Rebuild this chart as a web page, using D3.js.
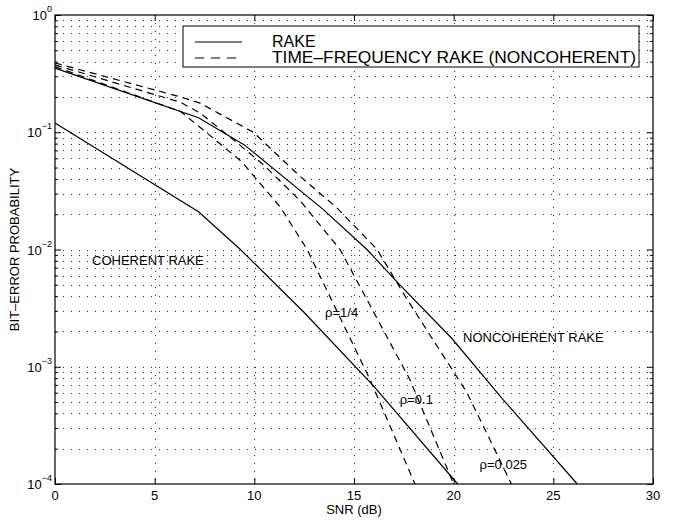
<!DOCTYPE html>
<html>
<head>
<meta charset="utf-8">
<script src="https://cdn.jsdelivr.net/npm/d3@7/dist/d3.min.js"></script>
<style>
body { margin: 0; background: #fff; }
svg { font-family: "Liberation Sans", Arial, sans-serif; }
.grid line { stroke: #333; stroke-width: 1; stroke-dasharray: 1,7; }
.curve { fill: none; stroke: #000; stroke-width: 1.2; }
.dashed { stroke-dasharray: 7,5; }
.axis path { display: none; }
.axis line { stroke: #000; }
</style>
</head>
<body>
<svg id="chart" width="673" height="520"></svg>
<script>

// values (SNR in dB, bit-error probability)
var coherentSnr = [0, 7.2, 9.3, 12.5, 16.0, 20.2];
var coherentBer = [0.12, 0.021, 0.01, 0.0029, 0.00068, 0.0001];

var noncoherentSnr = [0, 7.2, 9.5, 13.45, 15.65, 17.3, 19.9, 22.5, 26.2];
var noncoherentBer = [0.352, 0.133, 0.078, 0.022, 0.01, 0.005, 0.00175, 0.00052, 0.0001];

var rhoQuarterSnr = [0, 6.3, 7.43, 9.37, 11.3, 12.65, 15.8, 18.06];
var rhoQuarterBer = [0.363, 0.15, 0.105, 0.056, 0.023, 0.01, 0.00078, 0.0001];

var rhoTenthSnr = [0, 6.3, 7.3, 9, 10.5, 12.3, 14.3, 17.8, 20.0];
var rhoTenthBer = [0.375, 0.18, 0.145, 0.085, 0.052, 0.026, 0.01, 0.00078, 0.0001];

var rhoSmallSnr = [0, 6.3, 7.28, 9.95, 12.3, 14.1, 16.16, 17.56, 20.67, 22.9];
var rhoSmallBer = [0.39, 0.2, 0.177, 0.1, 0.042, 0.023, 0.01, 0.004, 0.0006, 0.0001];

var xTicks = [0, 5, 10, 15, 20, 25, 30];
var yDecades = [-4, -3, -2, -1, 0];

var legendLabels = ["RAKE", "TIME\u2013FREQUENCY RAKE (NONCOHERENT)"];

var curveLabels = [
    {text: "COHERENT RAKE", snr: 1.86, ber: 0.0074},
    {text: "\u03c1=1/4", snr: 13.55, ber: 0.00266},
    {text: "\u03c1=0.1", snr: 17.3, ber: 0.00048},
    {text: "\u03c1=0.025", snr: 21.3, ber: 0.000134},
    {text: "NONCOHERENT RAKE", snr: 20.47, ber: 0.00163}
];

var margin = {top: 15, right: 20, bottom: 36, left: 55};
var canvas = d3.select("#chart");
var width = 673 - margin.left - margin.right;
var height = 520 - margin.top - margin.bottom;

var x = d3.scaleLinear()
    .domain([0, 30])
    .range([0, width]);

var y = d3.scaleLog()
    .domain([1e-4, 1])
    .range([height, 0]);

var g = canvas.append("g")
    .attr("transform", "translate(" + margin.left + "," + margin.top + ")");

// minor values of the log axis
var yMinor = [];
for (var k = -4; k < 0; k++) {
    for (var m = 2; m <= 9; m++) {
        yMinor.push(m * Math.pow(10, k));
    }
}
var yMajor = yDecades.map(function(e) { return Math.pow(10, e); });

// dotted grid
var grid = g.append("g").classed("grid", true);

grid.selectAll(".hgrid")
    .data(yMajor.concat(yMinor).filter(function(v) { return v > 1e-4 && v < 1; }))
    .enter()
    .append("line")
    .attr("x1", 0)
    .attr("x2", width)
    .attr("y1", function(d) { return Math.round(y(d)) + 0.5; })
    .attr("y2", function(d) { return Math.round(y(d)) + 0.5; });

grid.selectAll(".vgrid")
    .data(xTicks.filter(function(v) { return v > 0 && v < 30; }))
    .enter()
    .append("line")
    .attr("y1", 0)
    .attr("y2", height)
    .attr("x1", function(d) { return Math.round(x(d)) + 0.5; })
    .attr("x2", function(d) { return Math.round(x(d)) + 0.5; });

// ticks on all four sides, pointing in
g.append("g")
    .classed("axis", true)
    .attr("transform", "translate(0," + height + ")")
    .call(d3.axisBottom(x).tickValues(xTicks).tickSize(-6).tickFormat(""));

g.append("g")
    .classed("axis", true)
    .call(d3.axisTop(x).tickValues(xTicks).tickSize(-6).tickFormat(""));

g.append("g")
    .classed("axis", true)
    .call(d3.axisLeft(y).tickValues(yMajor).tickSize(-6).tickFormat(""));

g.append("g")
    .classed("axis", true)
    .call(d3.axisLeft(y).tickValues(yMinor).tickSize(-3).tickFormat(""));

g.append("g")
    .classed("axis", true)
    .attr("transform", "translate(" + width + ",0)")
    .call(d3.axisRight(y).tickValues(yMajor).tickSize(-6).tickFormat(""));

g.append("g")
    .classed("axis", true)
    .attr("transform", "translate(" + width + ",0)")
    .call(d3.axisRight(y).tickValues(yMinor).tickSize(-3).tickFormat(""));

// tick labels
g.selectAll(".xlabel")
    .data(xTicks)
    .enter()
    .append("text")
    .attr("x", function(d) { return x(d); })
    .attr("y", height + 16)
    .attr("text-anchor", "middle")
    .style("font-size", "13px")
    .text(function(d) { return d; });

var ylab = g.selectAll(".ylabel")
    .data(yDecades)
    .enter()
    .append("text")
    .attr("x", -3)
    .attr("y", function(d) { return y(Math.pow(10, d)) + 5; })
    .attr("text-anchor", "end")
    .style("font-size", "13px");

ylab.append("tspan")
    .text("10");

ylab.append("tspan")
    .attr("dy", -8)
    .style("font-size", "9px")
    .text(function(d) { return d === 0 ? "0" : "\u2212" + (-d); });

// curves
var line = d3.line()
    .x(function(d) { return x(d[0]); })
    .y(function(d) { return y(d[1]); });

var series = [
    {snr: coherentSnr, ber: coherentBer, dashed: false},
    {snr: noncoherentSnr, ber: noncoherentBer, dashed: false},
    {snr: rhoQuarterSnr, ber: rhoQuarterBer, dashed: true},
    {snr: rhoTenthSnr, ber: rhoTenthBer, dashed: true},
    {snr: rhoSmallSnr, ber: rhoSmallBer, dashed: true}
];

g.selectAll(".curve")
    .data(series)
    .enter()
    .append("path")
    .classed("curve", true)
    .classed("dashed", function(d) { return d.dashed; })
    .attr("d", function(d) {
        return line(d.snr.map(function(s, i) { return [s, d.ber[i]]; }));
    });

// frame
g.append("rect")
    .attr("width", width)
    .attr("height", height)
    .attr("fill", "none")
    .attr("stroke", "#000")
    .attr("stroke-width", 1.2);

// labels on the curves
g.selectAll(".clabel")
    .data(curveLabels)
    .enter()
    .append("text")
    .attr("x", function(d) { return x(d.snr); })
    .attr("y", function(d) { return y(d.ber); })
    .style("font-size", "13px")
    .text(function(d) { return d.text; });

// legend
var legend = g.append("g")
    .attr("transform", "translate(128,11)");

legend.append("rect")
    .attr("width", 456)
    .attr("height", 41)
    .attr("fill", "#fff")
    .attr("stroke", "#000");

legend.selectAll(".lline")
    .data(legendLabels)
    .enter()
    .append("line")
    .attr("x1", 12)
    .attr("x2", 59)
    .attr("y1", function(d, i) { return 16 + i * 16; })
    .attr("y2", function(d, i) { return 16 + i * 16; })
    .attr("stroke", "#000")
    .attr("stroke-width", 1.2)
    .attr("stroke-dasharray", function(d, i) { return i === 1 ? "9,7" : null; });

legend.selectAll(".ltext")
    .data(legendLabels)
    .enter()
    .append("text")
    .attr("x", 89)
    .attr("y", function(d, i) { return 21 + i * 16; })
    .attr("textLength", function(d, i) { return i === 1 ? 364 : null; })
    .attr("lengthAdjust", "spacingAndGlyphs")
    .style("font-size", "16px")
    .text(function(d) { return d; });

// axis titles
canvas.append("text")
    .attr("x", margin.left + width / 2)
    .attr("y", 514)
    .attr("text-anchor", "middle")
    .style("font-size", "13px")
    .text("SNR (dB)");

canvas.append("text")
    .attr("transform", "translate(19," + (margin.top + height / 2) + ") rotate(-90)")
    .attr("text-anchor", "middle")
    .style("font-size", "13px")
    .text("BIT\u2013ERROR PROBABILITY");

</script>
</body>
</html>
